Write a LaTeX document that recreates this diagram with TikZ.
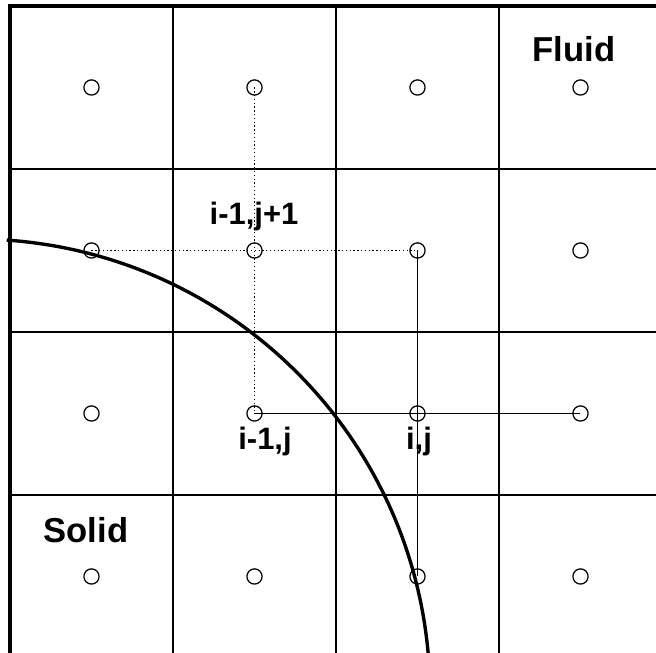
\documentclass[tikz,border=0pt]{standalone}
\usepackage{fontspec}
\setmainfont{Liberation Sans}
\usetikzlibrary{positioning}

\begin{document}
\begin{tikzpicture}[
    x=0.0125cm, y=0.0125cm,
    gridline/.style={line width=0.5pt},
    border/.style={line width=1.1pt},
    gridpt/.style={circle, draw=black, line width=0.45pt, fill=white, minimum size=0.19cm, inner sep=0pt},
    dotline/.style={line width=0.45pt, dash pattern=on 0.45pt off 0.9pt},
    solidline/.style={line width=0.5pt},
    iface/.style={line width=1.2pt},
    lbl/.style={font=\bfseries\fontsize{11}{13}\selectfont, inner sep=0pt, anchor=base},
    region/.style={font=\bfseries\fontsize{12.3}{14}\selectfont, inner sep=0pt, anchor=base}
]
    \useasboundingbox (0,0) rectangle (656,653);
    \clip (0,0) rectangle (656,653);
    \foreach \k in {1,2,3} {
        \draw[gridline] ({10+163*\k},0) -- ({10+163*\k},647);
        \draw[gridline] (10,{647-163*\k}) -- (656,{647-163*\k});
    }
    \draw[border] (10,0) -- (10,647) -- (656,647);
    \foreach \c in {1,...,4} {
        \foreach \r in {1,...,4} {
            \coordinate (c\c\r) at ({10+163*(\c-0.5)},{647-163*(\r-0.5)});
        }
    }
    \draw[dotline] (c12) -- (c32);
    \draw[dotline] (c21) -- (c23);
    \draw[solidline] (c32) -- (c34);
    \draw[solidline] (c23) -- (c43);
    \draw[iface] (-25,-41) ++(86:455) arc (86:4:455);
    \foreach \c in {1,...,4} {
        \foreach \r in {1,...,4} {
            \node[gridpt, fill=none] (n\c\r) at (c\c\r) {};
        }
    }
    \node[lbl] (lbl22) at (254,428) {i-1,j+1};
    \node[lbl] (lbl23) at (265,203) {i-1,j};
    \node[lbl] (lbl33) at (419,203) {i,j};
    \node[region] (fluid) at (574,591) {Fluid};
    \node[region] (solid) at (86,110) {Solid};
\end{tikzpicture}
\end{document}
